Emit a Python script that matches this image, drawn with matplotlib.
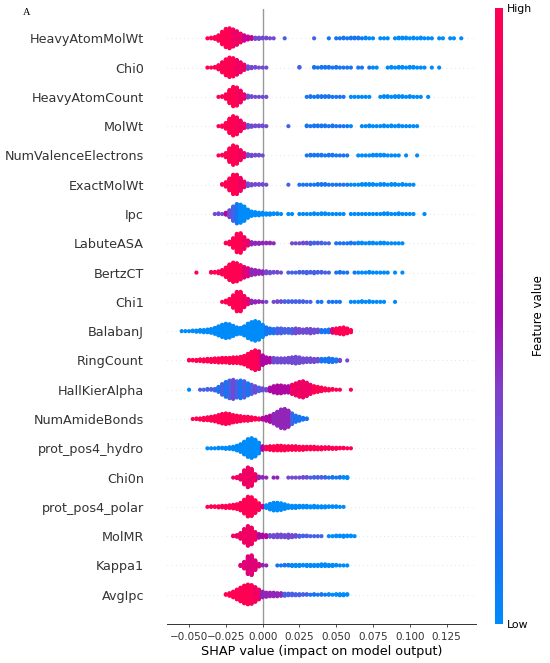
import numpy as np
import matplotlib
matplotlib.use("Agg")
import matplotlib.pyplot as plt
from matplotlib.colors import LinearSegmentedColormap
from matplotlib.cm import ScalarMappable

# features, top row first
features = ["HeavyAtomMolWt", "Chi0", "HeavyAtomCount", "MolWt",
            "NumValenceElectrons", "ExactMolWt", "Ipc", "LabuteASA",
            "BertzCT", "Chi1", "BalabanJ", "RingCount", "HallKierAlpha",
            "NumAmideBonds", "prot_pos4_hydro", "Chi0n", "prot_pos4_polar",
            "MolMR", "Kappa1", "AvgIpc"]

# the first bin of a row sits at start * 0.0025, colour digits per bin:
# 0 = low feature value (blue) .. 9 = high (red), last digit repeats
bin_width = 0.0025
bin_starts = [-15, -15, -12, -12, -12, -11, -13, -10, -18, -11,
              -22, -20, -20, -19, -15, -8, -15, -8, -6, -10]

heavyatommolwt_counts = [1, 2, 4, 10, 22, 32, 35, 30, 24, 16, 10, 6, 4, 3, 3,
                         2, 2, 1, 1, 0, 0, 1, 0, 0, 0, 0, 0, 0, 0,
                         1, 0, 0, 0,
                         1, 0, 1, 1, 2, 1, 2, 2, 2, 1, 2, 1, 1, 0, 1, 1, 1, 0, 1, 2,
                         2, 2, 1, 2, 1, 2, 1, 1, 1, 0, 1, 1, 0, 1, 1, 0, 1]
heavyatommolwt_colour = "9999999" + "888" + "666" + "333333" + "22222222222222" + "1111111111" + "0"

chi0_counts = [1, 1, 2, 8, 18, 28, 34, 32, 26, 18, 10, 5, 3, 2, 1,
               1, 1, 0, 0, 0, 0, 0, 0, 0, 0,
               2, 0, 0, 0, 2, 1, 2, 2, 2, 1,
               2, 1, 1, 1, 1, 0, 1, 1, 0, 1,
               1, 1, 0, 0, 1, 2, 1, 2, 2, 1,
               2, 2, 1, 1, 1, 0, 1, 0, 1]
chi0_colour = "99999999" + "888" + "333333" + "222222222222" + "1111111111111111" + "0"

heavyatomcount_counts = [1, 2, 8, 22, 32, 30, 20, 8, 4, 2, 1, 1,
                         1, 1, 0, 0, 0, 0, 0, 0, 0, 0, 0, 0,
                         1, 2, 1, 2, 2, 2, 2, 1, 1, 1,
                         1, 0, 1, 1, 1, 1, 1, 1, 0, 0,
                         1, 2, 2, 1, 2, 2, 2, 1, 2, 1,
                         1, 1, 0, 1]
heavyatomcount_colour = "999999" + "88" + "333333" + "2222222222" + "111111111111" + "0"

molwt_counts = [1, 3, 10, 24, 32, 28, 18, 8, 5, 3, 2, 2,
                2, 1, 0, 0, 0, 0, 0, 1, 0, 0, 0, 0,
                2, 1, 2, 2, 2, 2, 1, 2, 1, 1,
                1, 1, 1, 0, 0, 1, 1, 2, 1, 1,
                1, 2, 1, 2, 1, 2, 1, 1, 1, 1, 1]
molwt_colour = "999999" + "88" + "333333" + "2222222222" + "111111111111" + "0"

numvalenceelectrons_counts = [1, 2, 8, 24, 34, 30, 18, 8, 4, 3, 2, 2,
                              1, 0, 0, 0, 0, 0, 0, 0, 0, 0, 0, 0,
                              1, 2, 2, 2, 2, 1, 2, 2, 1, 1,
                              1, 1, 0, 0, 1, 1, 1, 1, 2, 2,
                              2, 2, 1, 1, 1, 1, 0, 1, 0, 0, 1]
numvalenceelectrons_colour = "999999" + "88" + "333333" + "2222222222" + "111111111111" + "0"

exactmolwt_counts = [2, 8, 20, 32, 32, 22, 10, 5, 3, 2, 2,
                     2, 1, 0, 0, 0, 0, 0, 1, 0, 0,
                     1, 1, 1, 1, 1, 2, 2, 2, 1, 1,
                     1, 1, 1, 1, 1, 1, 1, 2, 2, 2,
                     2, 1, 2, 2, 1, 2, 2, 1, 2, 1, 1, 1]
exactmolwt_colour = "99999" + "88" + "333333" + "22222222" + "11111111111111" + "0"

ipc_counts = [1, 2, 1, 4, 12, 24, 32, 30, 24, 14, 8, 6, 5,
              4, 3, 3, 2, 2, 1, 0, 1, 1, 0,
              1, 1, 1, 1, 2, 1, 2, 2, 1, 1,
              1, 1, 1, 0, 1, 1, 1, 1, 1, 1,
              1, 1, 1, 2, 2, 1, 1, 2, 1, 1,
              1, 1, 0, 0, 1]
ipc_colour = "33353210"

labuteasa_counts = [2, 6, 18, 34, 36, 22, 10, 5, 3, 3,
                    2, 2, 2, 1, 0, 0, 0, 0, 1, 1,
                    1, 2, 2, 3, 2, 2, 2, 1, 1, 0,
                    1, 1, 1, 1, 2, 1, 2, 2, 1, 2,
                    2, 1, 2, 2, 1, 1, 1, 1, 1]
labuteasa_colour = "99999" + "88" + "4444444" + "333333333" + "222222" + "1111111" + "0"

bertzct_counts = [1, 0, 0, 0, 2, 2, 4, 8, 16, 26,
                  32, 30, 24, 18, 14, 10, 8, 6,
                  5, 4, 3, 2, 2, 1, 0, 1, 1, 1,
                  2, 2, 3, 2, 3, 2, 2, 1, 1, 0,
                  1, 2, 1, 1, 0, 1, 1, 1, 1, 2,
                  1, 1, 1, 1, 1, 0, 1, 0, 1]
bertzct_colour = "9999999999999" + "77" + "4444" + "333333" + "222222222222" + "1111111" + "0"

chi1_counts = [1, 4, 10, 22, 34, 34, 20, 10, 5, 3, 2,
               1, 1, 0, 1, 2, 2, 2, 2, 2, 2,
               2, 2, 1, 1, 0, 1, 1, 0, 1, 1,
               1, 1, 0, 0, 1, 1, 1, 2, 1, 2,
               1, 1, 1, 1, 0, 0, 1]
chi1_colour = "999999" + "88" + "4444" + "33333" + "22222222" + "111111111" + "0"

balabanj_counts = [1, 1, 1, 2, 3, 4, 5, 6, 8, 12,
                   18, 24, 28, 26, 20, 14, 12, 18, 28, 34,
                   38, 34, 24, 14, 10, 9, 10, 10, 8, 8,
                   9, 10, 8, 7, 8, 9, 7, 6, 5, 5,
                   6, 8, 10, 12, 14, 10, 5]
balabanj_colour = "00000000000000000000000" + "111" + "22222" + "3333333" + "111" + "7" + "9"

ringcount_counts = [2, 2, 3, 4, 5, 6, 7, 8, 9, 10,
                    10, 11, 12, 12, 14, 18, 26, 34, 40, 36,
                    20, 12, 10, 10, 9, 9, 9, 10, 12, 14,
                    12, 9, 8, 8, 7, 6, 6, 6, 8, 7,
                    5, 3, 0, 1]
ringcount_colour = "9999999999999999999" + "8" + "555" + "3333333333333" + "11111" + "3"

hallkieralpha_counts = [1, 0, 0, 1, 1, 2, 2, 3, 8, 16,
                        22, 26, 28, 24, 26, 24, 18, 14, 10, 6,
                        4, 3, 6, 10, 12, 12, 10, 10, 14, 18,
                        22, 24, 20, 14, 10, 8, 6, 4, 3, 2,
                        1, 1, 0, 0, 1]
hallkieralpha_colour = "0" + "2222222" + "121232121232" + "33" + "555555" + "888888" + "9"

numamidebonds_counts = [1, 2, 3, 5, 6, 8, 10, 14, 18, 20,
                        18, 14, 12, 10, 8, 8, 6, 4, 3, 4,
                        8, 12, 18, 26, 34, 36, 30, 20, 12, 8, 4, 2]
numamidebonds_colour = "9999999999999999999" + "555" + "44444" + "2" + "1"

prot_pos4_hydro_counts = [1, 1, 1, 2, 2, 3, 4, 6, 10, 16,
                          26, 36, 40, 34, 22, 8, 6, 8, 9, 10,
                          10, 9, 8, 8, 8, 7, 7, 6, 6, 6,
                          5, 5, 4, 4, 3, 3, 2, 2, 1, 1]
prot_pos4_hydro_colour = "000000000000000" + "5" + "9"

chi0n_counts = [1, 3, 10, 30, 42, 36, 14, 4, 2, 1,
                0, 1, 1, 0, 0, 1, 1, 1, 1, 2,
                2, 1, 2, 2, 2, 2, 1, 2, 1, 2, 2, 3]
chi0n_colour = "8888888" + "444444" + "33333333" + "22222" + "1111" + "0"

prot_pos4_polar_counts = [1, 2, 2, 3, 4, 5, 6, 8, 10, 16,
                          28, 40, 38, 26, 14, 4, 6, 12, 16, 16,
                          14, 10, 6, 5, 5, 4, 4, 4, 3, 4,
                          3, 3, 3, 2, 2, 2, 1, 1]
prot_pos4_polar_colour = "999999999999999" + "6" + "0"

molmr_counts = [2, 4, 12, 28, 40, 34, 16, 8, 6, 5,
                4, 5, 6, 6, 5, 7, 5, 4, 3, 2,
                2, 1, 1, 1, 1, 0, 1, 1, 2, 2,
                3, 2, 2, 1]
molmr_colour = "8888888" + "555" + "33333333" + "2222222" + "0"

kappa1_counts = [3, 14, 36, 40, 20, 6, 2, 1, 0, 0,
                 1, 1, 2, 2, 3, 3, 3, 2, 3, 3,
                 3, 3, 4, 4, 3, 3, 2, 1, 1, 1]
kappa1_colour = "777777" + "44" + "00" + "1111" + "0"

avgipc_counts = [2, 6, 12, 20, 28, 36, 40, 38, 30, 20,
                 12, 9, 8, 8, 7, 6, 5, 4, 4, 3,
                 3, 2, 2, 1, 2, 1, 2, 1, 2, 1,
                 2, 3, 3, 2]
avgipc_colour = "9999999988" + "444444" + "2222222" + "11111" + "0"

all_counts = [heavyatommolwt_counts, chi0_counts, heavyatomcount_counts,
              molwt_counts, numvalenceelectrons_counts, exactmolwt_counts,
              ipc_counts, labuteasa_counts, bertzct_counts, chi1_counts,
              balabanj_counts, ringcount_counts, hallkieralpha_counts,
              numamidebonds_counts, prot_pos4_hydro_counts, chi0n_counts,
              prot_pos4_polar_counts, molmr_counts, kappa1_counts, avgipc_counts]
all_colours = [heavyatommolwt_colour, chi0_colour, heavyatomcount_colour,
               molwt_colour, numvalenceelectrons_colour, exactmolwt_colour,
               ipc_colour, labuteasa_colour, bertzct_colour, chi1_colour,
               balabanj_colour, ringcount_colour, hallkieralpha_colour,
               numamidebonds_colour, prot_pos4_hydro_colour, chi0n_colour,
               prot_pos4_polar_colour, molmr_colour, kappa1_colour, avgipc_colour]

xtick_values = [-0.05, -0.025, 0.0, 0.025, 0.05, 0.075, 0.1, 0.125]

# shap style blue -> purple -> red
red_blue = LinearSegmentedColormap.from_list("red_blue", [
    (0.00, (0.00, 0.545, 0.984)),
    (0.12, (0.10, 0.45, 0.95)),
    (0.25, (0.33, 0.36, 0.88)),
    (0.38, (0.50, 0.25, 0.78)),
    (0.50, (0.63, 0.05, 0.67)),
    (0.65, (0.78, 0.00, 0.58)),
    (0.80, (0.90, 0.00, 0.45)),
    (1.00, (1.00, 0.00, 0.32)),
])

row_height = 0.4
axis_color = "#333333"


def swarm(counts, start, colour):
    # stack the dots of each bin up and down like shap's beeswarm
    xs, ys, cs = [], [], []
    for i, n in enumerate(counts):
        code = int(colour[min(i, len(colour) - 1)])
        for layer in range(n):
            xs.append((start + i) * bin_width)
            ys.append(np.ceil(layer / 2) * ((layer % 2) * 2 - 1))
            cs.append(code / 9)
    ys = np.array(ys, dtype=float)
    ys *= 0.9 * (row_height / np.max(ys + 1))
    return np.array(xs), ys, np.array(cs)


fig = plt.figure(figsize=(5.5, 6.63), dpi=100)
ax = fig.add_axes([0.3036, 0.0588, 0.5618, 0.9276])

n = len(features)
for i in range(n):
    pos = n - 1 - i
    ax.axhline(pos, color="#cccccc", lw=0.5, dashes=(1, 5), zorder=-1)
    xs, ys, cs = swarm(all_counts[i], bin_starts[i], all_colours[i])
    ax.scatter(xs, pos + ys, c=cs, cmap=red_blue, vmin=0, vmax=1, s=9,
               linewidth=0, zorder=3, rasterized=True)

ax.axvline(0, color="#999999", lw=1.0, zorder=-1)

ax.set_xlim(-0.065, 0.145)
ax.set_ylim(-1, n)
ax.set_yticks(range(n))
ax.set_yticklabels(features[::-1], fontsize=9.2)
ax.set_xticks(xtick_values)
ax.tick_params("y", length=0, pad=16.5)
ax.tick_params("x", labelsize=7.5, length=2.5, width=0.6)
ax.tick_params(color=axis_color, labelcolor=axis_color)
for side in ["left", "right", "top"]:
    ax.spines[side].set_visible(False)
ax.spines["bottom"].set_color(axis_color)
ax.spines["bottom"].set_linewidth(0.7)
ax.set_xlabel("SHAP value (impact on model output)", fontsize=9.2, labelpad=2)

# colour bar
cax = fig.add_axes([0.9, 0.0588, 0.01455, 0.9291])
sm = ScalarMappable(cmap=red_blue)
sm.set_clim(0, 1)
cb = fig.colorbar(sm, cax=cax, ticks=[0, 1])
cb.set_ticklabels(["Low", "High"])
cb.set_label("Feature value", size=8.5, labelpad=0)
cb.ax.tick_params(labelsize=7.8, length=0, pad=3)
cb.outline.set_visible(False)

fig.text(0.042, 0.977, "A", family="Liberation Serif", fontsize=7.5)

fig.savefig("out.png", dpi=100)
